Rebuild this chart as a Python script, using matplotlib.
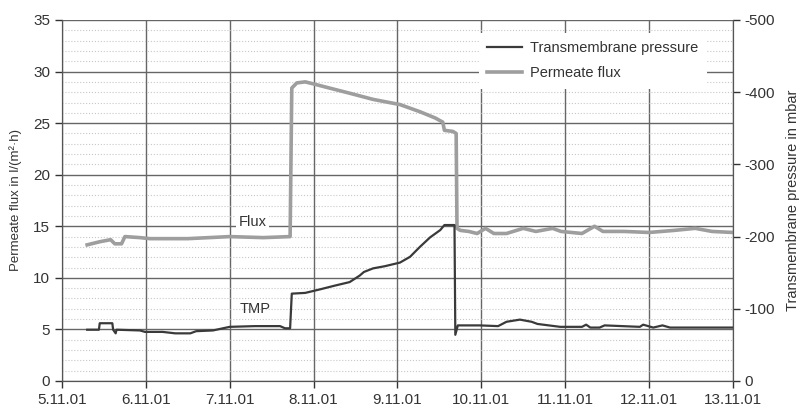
import matplotlib
matplotlib.use("Agg")
import matplotlib.pyplot as plt
from matplotlib.ticker import MultipleLocator

plt.rcParams['font.family'] = ['Liberation Sans', 'DejaVu Sans']
plt.rcParams['axes.unicode_minus'] = False

# days since 5.11.01
day_labels = ['5.11.01', '6.11.01', '7.11.01', '8.11.01', '9.11.01',
              '10.11.01', '11.11.01', '12.11.01', '13.11.01']

# transmembrane pressure, mbar
tmp_t = [0.30, 0.44, 0.45, 0.60, 0.61, 0.64, 0.65, 0.93, 0.99, 1.20, 1.35, 1.53,
         1.60, 1.80, 2.00, 2.30, 2.60, 2.66, 2.72, 2.74, 2.90, 3.08, 3.25, 3.43,
         3.55, 3.60, 3.71, 3.85, 4.03, 4.15, 4.27, 4.39, 4.51, 4.56, 4.66, 4.68,
         4.69, 4.72, 4.98, 5.20, 5.30, 5.46, 5.60, 5.67, 5.94, 6.20, 6.25, 6.30,
         6.41, 6.47, 6.89, 6.93, 7.05, 7.16, 7.25, 8.00]
tmp_v = [-71, -71, -80, -80, -71, -66, -71, -70, -68, -68, -66, -66,
         -69, -70, -75, -76, -76, -73, -73, -121, -122, -127, -132, -137,
         -146, -151, -156, -159, -164, -172, -186, -199, -209, -216, -216, -216,
         -64, -77, -77, -76, -82, -85, -82, -79, -75, -75, -78, -74,
         -74, -77, -75, -78, -74, -77, -74, -74]

# permeate flux, l/(m2 h)
flux_t = [0.30, 0.40, 0.45, 0.58, 0.63, 0.71, 0.75, 0.93, 1.05, 1.50, 2.00, 2.40,
          2.72, 2.74, 2.80, 2.90, 3.00, 3.19, 3.43, 3.71, 4.03, 4.27, 4.45, 4.54,
          4.56, 4.66, 4.70, 4.71, 4.75, 4.85, 4.95, 5.05, 5.15, 5.30, 5.50, 5.65,
          5.85, 5.95, 6.20, 6.35, 6.45, 6.70, 7.00, 7.30, 7.55, 7.75, 8.00]
flux_v = [13.2, 13.4, 13.5, 13.7, 13.3, 13.3, 14.0, 13.9, 13.8, 13.8, 14.0, 13.9,
          14.0, 28.4, 28.9, 29.0, 28.8, 28.4, 27.9, 27.3, 26.8, 26.1, 25.5, 25.1,
          24.3, 24.2, 24.0, 14.8, 14.6, 14.5, 14.3, 14.8, 14.3, 14.3, 14.8, 14.5,
          14.8, 14.5, 14.3, 15.0, 14.5, 14.5, 14.4, 14.6, 14.8, 14.5, 14.4]

txt = '#333333'
fig = plt.figure(figsize=(8.01, 4.13), dpi=100)
ax = fig.add_axes([0.0774, 0.0775, 0.8376, 0.8741])
ax2 = ax.twinx()

ax.set_xlim(0, 8)
ax.set_ylim(0, 35)
ax2.set_ylim(0, -500)
ax.set_xticks(range(9))
ax.set_xticklabels(day_labels)
ax.yaxis.set_major_locator(MultipleLocator(5))
ax.yaxis.set_minor_locator(MultipleLocator(1))
ax2.yaxis.set_major_locator(MultipleLocator(100))

ax.grid(True, which='major', color='#666666', lw=1.0)
ax.grid(True, which='minor', axis='y', color='#c8c8c8', lw=0.8, ls=':')
ax.tick_params(which='minor', left=False)
ax.set_axisbelow(True)

for a in (ax, ax2):
    a.tick_params(labelsize=11, colors=txt, length=5, width=1)
    for s in a.spines.values():
        s.set_color('#555555')
ax.spines['top'].set_visible(False)
ax2.spines['top'].set_visible(False)

l1, = ax2.plot(tmp_t, tmp_v, color='#3a3a3a', lw=1.6, label='Transmembrane pressure')
l2, = ax.plot(flux_t, flux_v, color='#9e9e9e', lw=2.6, label='Permeate flux')

ax.set_ylabel('Permeate flux in l/(m²·h)', fontsize=9.5, color=txt, labelpad=8)
ax2.set_ylabel('Transmembrane pressure in mbar', fontsize=10.5, color=txt, labelpad=8)

ax.text(2.27, 15.4, 'Flux', fontsize=10.5, color=txt, ha='center', va='center',
        bbox=dict(facecolor='white', edgecolor='none', pad=2))
ax.text(2.30, 7.0, 'TMP', fontsize=10.5, color=txt, ha='center', va='center')

leg = ax2.legend([l1, l2], ['Transmembrane pressure', 'Permeate flux'],
                 loc='upper left', bbox_to_anchor=(0.61, 0.985), fontsize=10.5,
                 frameon=True, fancybox=False, edgecolor='none', framealpha=1,
                 handlelength=2.4, handletextpad=0.5, labelspacing=0.75,
                 borderpad=0.6)
for t in leg.get_texts():
    t.set_color(txt)

fig.savefig('out.png', dpi=100)
